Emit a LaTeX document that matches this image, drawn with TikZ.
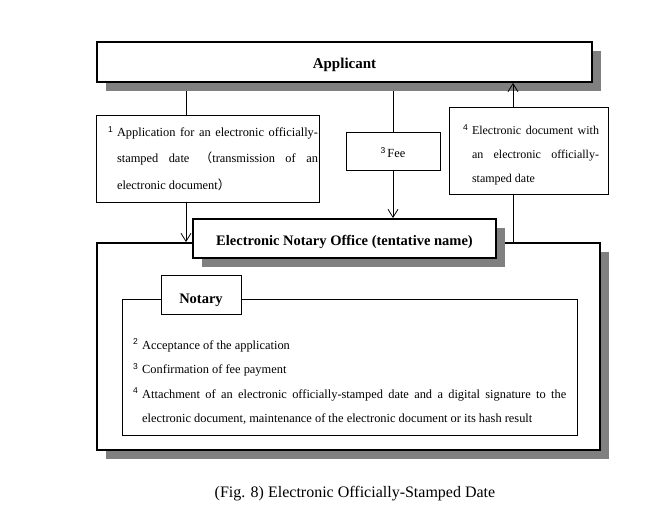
\documentclass[tikz,border=0pt]{standalone}
\usepackage{fontspec}
\setmainfont{Liberation Serif}
\newfontfamily\supfont{Liberation Sans}
\newfontfamily\cjkfont{Noto Sans CJK JP}
\usetikzlibrary{arrows.meta,shadows,backgrounds}
\newcommand\supnum[1]{\raisebox{4.2pt}{\fontsize{8.5}{9}\selectfont\supfont #1}}
\newcommand\numitem[2]{\par\hangindent=9pt\hangafter=1\noindent\makebox[9pt][l]{\supnum{#1}}#2\par}
\newcommand\bodysetup{\parskip=0pt\hyphenpenalty=10000\exhyphenpenalty=10000\tolerance=10000\hbadness=10000}
\begin{document}
\begin{tikzpicture}[x=1pt,y=-1pt,
  thickbox/.style={draw, line width=1.9pt, fill=white, inner sep=0pt,
    drop shadow={shadow xshift=9pt, shadow yshift=-9pt, fill=gray, opacity=1}},
  thinbox/.style={draw, line width=0.8pt, fill=white, inner sep=0pt},
  conn/.style={line width=0.8pt},
  arr/.style={conn, -{Straight Barb[length=8pt,width=10pt]}}]
\useasboundingbox (0,0) rectangle (670,532);

\node[thickbox, minimum width=495pt, minimum height=40pt, text height=16pt, text depth=2pt,
  font=\fontsize{15}{17}\selectfont\bfseries] (app) at (344.5,62) {Applicant};

\node[thinbox, minimum width=223pt, minimum height=87pt] (box1) at (207.5,158.5)
  {\parbox{223pt}{\fontsize{12.4}{26.5}\selectfont\bodysetup\leftskip=12pt\rightskip=1pt
   \numitem{1}{Application for an electronic officially-\linebreak stamped date {\cjkfont （}transmission of an\linebreak electronic document{\cjkfont ）}}}};

\node[thinbox, minimum width=94pt, minimum height=38pt, text height=16pt, text depth=2pt,
  font=\fontsize{12.4}{14}\selectfont] (fee) at (393,151) {\supnum{3}\,Fee};

\node[thinbox, minimum width=159pt, minimum height=87pt] (box4) at (528.5,150.5)
  {\parbox{159pt}{\vspace*{9pt}\fontsize{12}{24}\selectfont\bodysetup\leftskip=14pt\rightskip=9pt
   \numitem{4}{Electronic document with\linebreak an electronic officially-\linebreak stamped date}}};

\node[thickbox, minimum width=503pt, minimum height=207pt] (big) at (348.5,346.5) {};

\node[thickbox, minimum width=303pt, minimum height=39pt, text height=17pt, text depth=2pt,
  font=\fontsize{14.5}{16}\selectfont\bfseries] (eno) at (344.5,238.5)
  {Electronic Notary Office (tentative name)};

\node[thinbox, minimum width=455pt, minimum height=136pt] (frame) at (349.5,367) {};

\node[thinbox, minimum width=80pt, minimum height=39pt, text height=19pt, text depth=2pt,
  font=\fontsize{14.5}{16}\selectfont\bfseries] (notary) at (201,294.5) {Notary};

\node[anchor=base west, inner sep=0pt] (ntext) at (133,349)
  {\parbox[t]{433pt}{\fontsize{12.4}{24.5}\selectfont\bodysetup
   \numitem{2}{Acceptance of the application}
   \numitem{3}{Confirmation of fee payment}
   \numitem{4}{Attachment of an electronic officially-stamped date and a digital signature to the\linebreak electronic document, maintenance of the electronic document or its hash result}}};

\node[font=\fontsize{16}{18}\selectfont] (cap) at (355,494)
  {(Fig. 8) Electronic Officially-Stamped Date};

\coordinate (l1) at (186,0);
\coordinate (l4) at (513,0);
\begin{scope}[on background layer]
  \draw[conn] (l1 |- app.south) -- (l1 |- box1.north);
  \draw[arr] (l1 |- box1.south) -- (l1 |- big.north);
  \draw[conn] (fee.north |- app.south) -- (fee.north);
  \draw[arr] (fee.south) -- (fee.south |- eno.north);
\end{scope}
\draw[conn] (l4 |- big.north) -- (l4 |- box4.south);
\draw[arr] (l4 |- box4.north) -- (l4 |- app.south);
\end{tikzpicture}
\end{document}
